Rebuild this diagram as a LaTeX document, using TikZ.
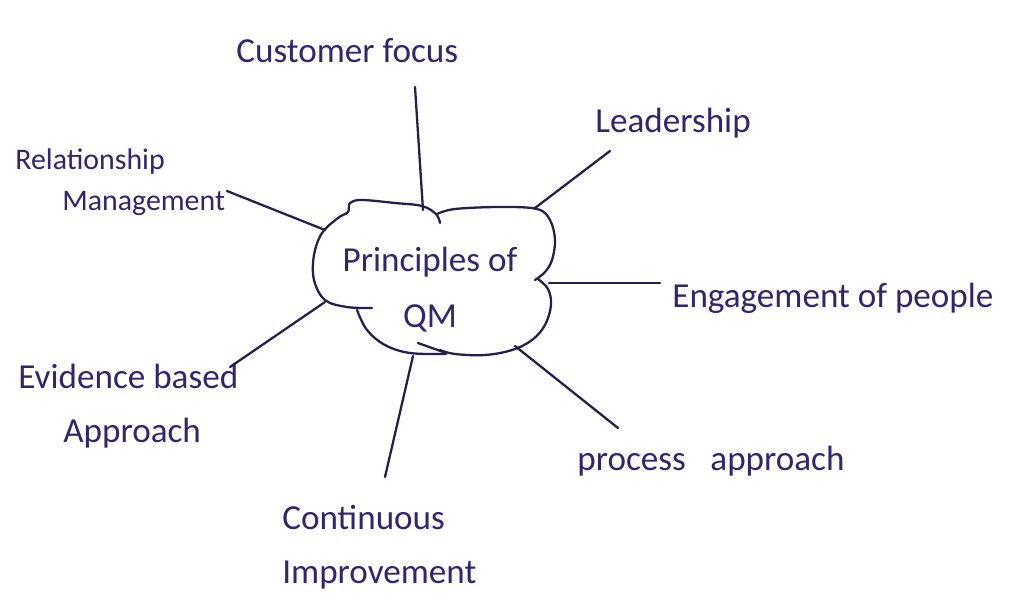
\documentclass[tikz,border=0pt]{standalone}
\usepackage{fontspec}
\setmainfont{Carlito}
\definecolor{ink}{RGB}{48,38,112}
\definecolor{pen}{RGB}{35,32,78}

\begin{document}
\begin{tikzpicture}[x=0.02cm, y=-0.02cm]
    \tikzstyle{topic}=[text=ink, inner sep=0pt, anchor=west, align=left,
      font=\fontsize{20}{27}\selectfont]
    \tikzstyle{branch}=[draw=pen, line width=1.3pt, line cap=round]
    \tikzstyle{outline}=[draw=pen, line width=1.3pt, line cap=round,
      line join=round]
    \useasboundingbox (0,0) rectangle (1015,606);

    % the principles around the cloud
    \draw (236,51)  node[topic] (Cust) {Customer focus};
    \draw (595,123) node[topic] (Lead) {Leadership};
    \draw (15,182)  node[topic, font=\fontsize{17}{23}\selectfont] (Rel)
      {Relationship\\\hspace*{0.94cm}Management};
    \draw (672,298) node[topic] (Eng) {Engagement of people};
    \draw (18,406)  node[topic, font=\fontsize{20}{31}\selectfont] (Evi)
      {Evidence based\\\hspace*{0.9cm}Approach};
    \draw (577,461) node[topic] (Proc) {process\hspace{0.7em}approach};
    \draw (282,547) node[topic, font=\fontsize{20}{31}\selectfont] (Cont)
      {Continuous\\Improvement};
    \draw (430,290) node[topic, anchor=center, align=center,
      font=\fontsize{20}{32}\selectfont] (QM) {Principles of\\QM};

    % cloud round the centre
    \draw[outline] plot[smooth, tension=0.6] coordinates {(372,308) (347,307)
      (325,300) (314,280) (314,255) (322,233) (338,218) (348,212) (350,203)
      (362,200) (395,203) (422,206) (436,214) (440,223)};
    \draw[outline] plot[smooth, tension=0.6] coordinates {(437,214) (455,209)
      (500,207) (537,209) (550,220) (555,240) (552,260) (545,272) (535,280)};
    \draw[outline] plot[smooth, tension=0.6] coordinates {(538,279) (548,289)
      (551,305) (545,325) (532,340) (512,350) (485,355) (455,354) (440,350)};
    \draw[outline] plot[smooth, tension=0.6] coordinates {(418,343) (432,348)
      (446,353)};
    \draw[outline] plot[smooth, tension=0.6] coordinates {(357,310) (367,330)
      (385,345) (410,353) (446,354)};

    \coordinate (cTop)  at (423,210);
    \coordinate (cLead) at (535,208);
    \coordinate (cRel)  at (325,230);
    \coordinate (cEng)  at (549,283);
    \coordinate (cEvi)  at (325,302);
    \coordinate (cProc) at (515,346);
    \coordinate (cCont) at (413,356);

    \coordinate (tCust) at (415,87);
    \coordinate (tLead) at (610,151);
    \coordinate (tRel)  at (227,191);
    \coordinate (tEng)  at (660,283);
    \coordinate (tEvi)  at (230,367);
    \coordinate (tProc) at (618,428);
    \coordinate (tCont) at (385,477);

    \draw[branch] (tCust) -- (cTop);
    \draw[branch] (tLead) -- (cLead);
    \draw[branch] (tRel)  -- (cRel);
    \draw[branch] (tEng)  -- (cEng);
    \draw[branch] (tEvi)  -- (cEvi);
    \draw[branch] (tProc) -- (cProc);
    \draw[branch] (tCont) -- (cCont);
\end{tikzpicture}
\end{document}
